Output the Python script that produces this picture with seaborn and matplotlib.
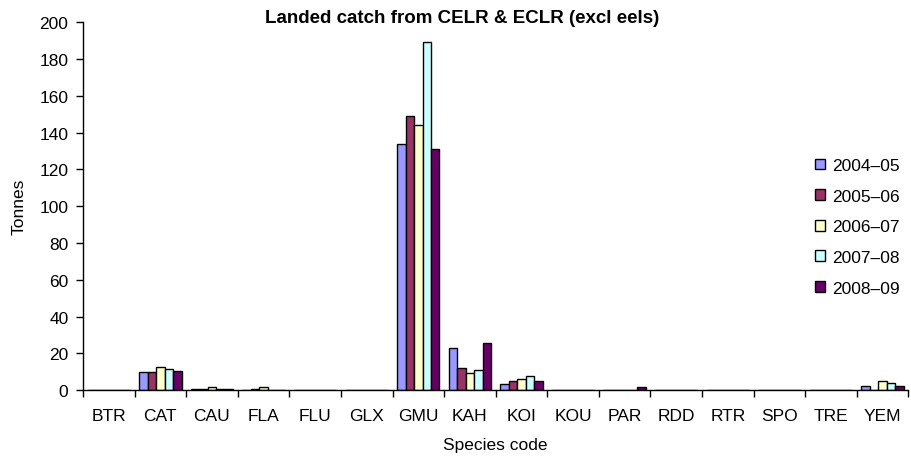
import matplotlib
matplotlib.use("Agg")
import matplotlib.pyplot as plt
import seaborn as sns
import pandas as pd
import numpy as np
from matplotlib.patches import Patch

species = ["BTR", "CAT", "CAU", "FLA", "FLU", "GLX", "GMU", "KAH",
           "KOI", "KOU", "PAR", "RDD", "RTR", "SPO", "TRE", "YEM"]
seasons = ["2004\u201305", "2005\u201306", "2006\u201307", "2007\u201308", "2008\u201309"]

s2004_05 = [0, 10, 0.5, 0.3, 0, 0, 134, 23, 3.2, 0, 0, 0, 0, 0, 0, 2.5]
s2005_06 = [0, 10, 0.6, 0.4, 0, 0, 149, 12, 5.2, 0, 0, 0, 0, 0, 0, 0]
s2006_07 = [0, 12.5, 1.5, 1.5, 0, 0, 144, 9.5, 6, 0, 0, 0, 0, 0, 0, 5]
s2007_08 = [0, 11.5, 0.6, 0, 0, 0, 189, 11.2, 7.6, 0, 0, 0, 0, 0, 0, 4.1]
s2008_09 = [0, 10.5, 0.6, 0, 0, 0, 131, 25.5, 5.2, 0, 1.6, 0, 0, 0, 0, 2.3]

colors = ["#9999FF", "#993366", "#FFFFCC", "#CCFFFF", "#660066"]

rows = []
for season, vals in zip(seasons, [s2004_05, s2005_06, s2006_07, s2007_08, s2008_09]):
    for sp, v in zip(species, vals):
        rows.append({"Species": sp, "Season": season, "Tonnes": v})
df = pd.DataFrame(rows)

sns.set_theme(style="white")
plt.rcParams["font.family"] = ["Liberation Sans", "DejaVu Sans"]
plt.rcParams["text.color"] = "black"
plt.rcParams["axes.labelcolor"] = "black"
plt.rcParams["xtick.color"] = "black"
plt.rcParams["ytick.color"] = "black"

FS = 12.5

fig = plt.figure(figsize=(9.12, 4.64), dpi=100)
ax = fig.add_axes([0.091, 0.157, 0.905, 0.793])

sns.barplot(data=df, x="Species", y="Tonnes", hue="Season", order=species,
            hue_order=seasons, palette=colors, width=0.82, edgecolor="black",
            linewidth=1.0, ax=ax, legend=False, errorbar=None, saturation=1)

ax.set_xlim(-0.5, len(species) - 0.5)
ax.set_ylim(0, 200)
ax.set_yticks(np.arange(0, 201, 20))
ax.set_xticks(np.arange(len(species)))
ax.set_xticks(np.arange(-0.5, len(species), 1), minor=True)
ax.tick_params(axis="x", which="major", length=0, labelsize=FS, pad=13)
ax.tick_params(axis="x", which="minor", length=5, width=1, color="black", direction="out", bottom=True)
ax.tick_params(axis="y", which="major", length=5, width=1, color="black", direction="out",
               left=True, labelsize=FS, pad=5.5)

for s in ["top", "right"]:
    ax.spines[s].set_visible(False)
for s in ["left", "bottom"]:
    ax.spines[s].set_color("black")
    ax.spines[s].set_linewidth(1)

ax.set_xlabel("Species code", fontsize=FS, labelpad=10)
ax.set_ylabel("Tonnes", fontsize=FS, labelpad=9)
fig.text(0.507, 0.961, "Landed catch from CELR & ECLR (excl eels)", fontsize=13.5,
         fontweight="bold", ha="center", va="center", color="black")

handles = [Patch(facecolor=c, edgecolor="black", linewidth=1, label=l) for c, l in zip(colors, seasons)]
ax.legend(handles=handles, loc="upper left", bbox_to_anchor=(0.886, 0.672),
          bbox_transform=fig.transFigure, frameon=False, fontsize=FS,
          handlelength=0.58, handleheight=0.58, labelspacing=0.9, handletextpad=0.4,
          borderpad=0.4, borderaxespad=0)

fig.savefig("out.png", dpi=100, facecolor="white")
